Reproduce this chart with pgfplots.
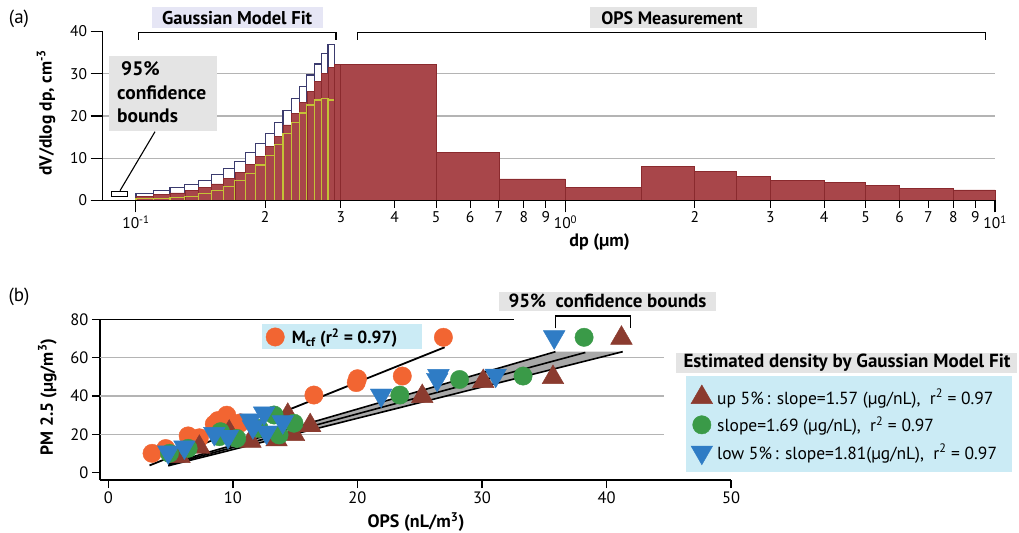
\documentclass[border=0pt]{standalone}
\usepackage{fontspec}
\setmainfont{PT Sans}
\usepackage{pgfplots}
\pgfplotsset{compat=1.18}
\newcommand{\fsz}[1]{\fontsize{#1bp}{#1bp}\selectfont}

\definecolor{opsred}{HTML}{A8464A}
\definecolor{opsredline}{HTML}{8A2A2E}
\definecolor{upnavy}{HTML}{3B3B6E}
\definecolor{lowyel}{HTML}{C4C236}
\definecolor{gridgray}{HTML}{B4B4B4}
\definecolor{boxgray}{HTML}{E4E4E4}
\definecolor{boxlav}{HTML}{E6E6F5}
\definecolor{boxblue}{HTML}{CBEBF5}
\definecolor{mcf}{HTML}{F26532}
\definecolor{gup}{HTML}{8B3B2F}
\definecolor{gmid}{HTML}{3A9A48}
\definecolor{glow}{HTML}{2F7CC5}
\definecolor{bandgray}{HTML}{A8A8A8}

\begin{document}
\begin{tikzpicture}
\useasboundingbox (0,0) rectangle (1019bp,533bp);

% boxes behind the legends of panel (b)
\fill[boxblue] (262bp,184bp) rectangle (422bp,208.7bp);
\fill[boxgray] (676bp,160.3bp) rectangle (1016.7bp,179.7bp);
\fill[boxblue] (686bp,61.3bp) rectangle (1011.7bp,157bp);
\fill[boxgray] (498.8bp,222.3bp) rectangle (716.2bp,241.3bp);

%% ---------------- panel (a) ----------------
\begin{axis}[
  at={(102.5bp,332.5bp)}, anchor=south west,
  scale only axis, width=892.5bp, height=169bp,
  xmode=log, xmin=0.0836, xmax=10, ymin=0, ymax=40,
  axis lines=left, axis line style={-, line width=1.1bp},
  axis on top,
  tick align=outside, tick style={black, line width=1.1bp},
  major tick length=12bp,
  xminorticks=false,
  xtick={0.1,1,10},
  xticklabels={10\textsuperscript{-1},10\textsuperscript{0},10\textsuperscript{1}},
  extra x ticks={0.2,0.3,0.4,0.5,0.6,0.7,0.8,0.9,2,3,4,5,6,7,8,9},
  extra x tick labels={2,3,4,5,6,7,8,9,2,3,4,5,6,7,8,9},
  extra x tick style={major tick length=7.5bp},
  ytick={0,10,20,30,40},
  ticklabel style={font=\fsz{15.5}},
  /pgf/number format/assume math mode=true,
  xlabel={\bfseries dp (µm)},
  xlabel style={at={(axis description cs:0.557,-0.246)}, anchor=center, font=\fsz{18}},
  ylabel={\bfseries dV/dlog dp, cm\textsuperscript{-3}},
  ylabel style={at={(axis description cs:-0.0633,0.518)}, anchor=center, font=\fsz{17.5}},
  clip=false,
]
\draw[gridgray, line width=1.3bp] (axis cs:0.0836,10) -- (axis cs:10,10);
\draw[gridgray, line width=1.3bp] (axis cs:0.0836,20) -- (axis cs:10,20);
\draw[gridgray, line width=1.3bp] (axis cs:0.0836,30) -- (axis cs:10,30);

% Gaussian model fit, upper bound
\addplot[ybar interval, fill=white, draw=upnavy, line width=1.2bp] coordinates {
  (0.10,1.74) (0.11,2.29) (0.12,3.08) (0.13,3.87) (0.14,4.81) (0.15,6.24)
  (0.16,7.66) (0.17,9.31) (0.18,11.28) (0.19,13.5) (0.20,15.86) (0.21,18.5)
  (0.22,21.3) (0.23,24.06) (0.24,26.9) (0.25,29.7) (0.26,32.3) (0.27,34.8)
  (0.28,36.9) (0.29,36.9)
};
% Gaussian model fit
\addplot[ybar interval, fill=opsred, draw=opsredline, line width=0.6bp] coordinates {
  (0.10,1.0) (0.11,1.4) (0.12,1.8) (0.13,2.4) (0.14,3.05) (0.15,3.95)
  (0.16,5.15) (0.17,6.7) (0.18,8.45) (0.19,10.5) (0.20,12.8) (0.21,15.15)
  (0.22,17.9) (0.23,20.55) (0.24,23.3) (0.25,25.85) (0.26,28.15) (0.27,30.1)
  (0.28,31.45) (0.29,31.45)
};
% Gaussian model fit, lower bound
\addplot[ybar interval, fill=none, draw=lowyel, line width=1.2bp] coordinates {
  (0.10,0.4) (0.11,0.5) (0.12,0.7) (0.13,0.95) (0.14,1.6) (0.15,2.3)
  (0.16,3.4) (0.17,4.7) (0.18,6.3) (0.19,8.4) (0.20,10.6) (0.21,13.3)
  (0.22,15.9) (0.23,18.5) (0.24,20.7) (0.25,22.6) (0.26,23.8) (0.27,24.2)
  (0.28,23.8) (0.29,23.8)
};
% OPS measurement
\addplot[ybar interval, fill=opsred, draw=opsredline, line width=0.8bp] coordinates {
  (0.29,32.3) (0.3,32.3) (0.5,11.3) (0.7,5.1) (1.0,3.0) (1.5,8.0) (2.0,6.8)
  (2.5,5.75) (3,4.8) (4,4.2) (5,3.55) (6,2.9) (8,2.5) (10,2.5)
};
\draw[black, fill=white, line width=1bp] (axis cs:0.0879,1.0) rectangle (axis cs:0.0958,2.1);
\end{axis}

% annotations of panel (a)
\draw[black, line width=1.1bp] (120bp,342.3bp) -- (155bp,401.3bp);
\fill[boxgray] (109.3bp,402.3bp) rectangle (217.3bp,477bp);
\node[anchor=base west, inner sep=0pt, font=\fsz{19.5}\bfseries] at (121bp,457bp) {95\%};
\node[anchor=base west, inner sep=0pt, font=\fsz{19.5}\bfseries] at (117bp,433bp) {confidence};
\node[anchor=base west, inner sep=0pt, font=\fsz{19.5}\bfseries] at (117bp,410.3bp) {bounds};
\node[font=\fsz{19}] at (19bp,513.8bp) {(a)};
\fill[boxlav] (151.7bp,504.7bp) rectangle (322.7bp,525.7bp);
\node[font=\fsz{18.5}\bfseries] at (237.2bp,515.2bp) {Gaussian Model Fit};
\fill[boxgray] (590bp,504.7bp) rectangle (756.7bp,525.7bp);
\node[font=\fsz{18}\bfseries] at (672bp,515.2bp) {OPS Measurement};
\draw[black, line width=1.3bp] (138.7bp,493bp) -- (138.7bp,500.7bp) -- (336bp,500.7bp) -- (336bp,493bp);
\draw[black, line width=1.3bp] (357.7bp,493bp) -- (357.7bp,500.7bp) -- (985.7bp,500.7bp) -- (985.7bp,493bp);

%% ---------------- panel (b) ----------------
\begin{axis}[
  at={(100bp,53bp)}, anchor=south west,
  scale only axis, width=631bp, height=160.7bp,
  xmin=-0.68, xmax=50, ymin=-3.8, ymax=80,
  axis lines=left, axis line style={-, line width=1.1bp},
  tick align=outside, major tick length=8bp, tick style={black, line width=1.1bp},
  xtick={0,10,...,50}, ytick={0,20,...,80},
  ticklabel style={font=\fsz{16.5}},
  /pgf/number format/assume math mode=true,
  xlabel={\bfseries OPS (nL/m\textsuperscript{3})},
  xlabel style={at={(axis description cs:0.5008,-0.261)}, anchor=center, font=\fsz{18}},
  ylabel={\bfseries PM 2.5 (µg/m\textsuperscript{3})},
  ylabel style={at={(axis description cs:-0.0832,0.5165)}, anchor=center, font=\fsz{17.5}},
  clip=false,
  legend image code/.code={\draw[mark repeat=2,mark phase=2,#1] plot coordinates {(-8bp,0bp) (0bp,0bp) (8bp,0bp)};},
  legend style={at={(axis description cs:0.2628,0.8899)}, anchor=west, draw=none, fill=none,
    inner sep=0pt, font=\fsz{17.5}, nodes={inner xsep=7.5bp, inner ysep=0bp}},
]
\draw[gridgray, line width=1.3bp] (axis cs:-0.68,20) -- (axis cs:44.6,20);
\draw[gridgray, line width=1.3bp] (axis cs:-0.68,40) -- (axis cs:44.6,40);
\draw[gridgray, line width=1.3bp] (axis cs:-0.68,60) -- (axis cs:44.6,60);
\draw[black, line width=1bp] (axis cs:-0.68,80) -- (axis cs:32.6,80);
\addplot[black, line width=1.8bp, forget plot] coordinates {(3.3,3.8) (27.0,65.4)};
\addplot[only marks, mark=*, mark size=9.2bp, color=mcf] coordinates {
  (3.5,10.1) (4.6,12.6) (6.4,19.2) (7.3,18.2) (8.5,25.3) (8.8,27.2) (9.5,30.0)
  (10.6,26.0) (16.5,40.5) (19.9,47.0) (20.0,49.0) (23.6,50.4) (26.9,70.6)
};
\addlegendentry{\bfseries M\textsubscript{cf} (r\textsuperscript{2} = 0.97)}
\end{axis}

\begin{axis}[
  at={(100bp,53bp)}, anchor=south west,
  scale only axis, width=631bp, height=160.7bp,
  xmin=-0.68, xmax=50, ymin=-3.8, ymax=80,
  hide axis, clip=false,
  legend image code/.code={\draw[mark repeat=2,mark phase=2,#1] plot coordinates {(-8bp,0bp) (0bp,0bp) (8bp,0bp)};},
  legend style={at={(axis description cs:0.9363,0.593)}, anchor=north west, draw=none, fill=none,
    inner sep=0pt, font=\fsz{17.5}, row sep=10bp, legend cell align=left,
    nodes={inner xsep=4.5bp, inner ysep=0bp}},
]
\addplot[fill=bandgray, draw=none, forget plot] coordinates {(4.8,4.6) (35.9,63.1) (41.3,63.1) (4.8,3.6)} -- cycle;
\addplot[black, line width=1.6bp, forget plot] coordinates {(4.8,4.6) (35.9,63.1)};
\addplot[black, line width=1.6bp, forget plot] coordinates {(4.8,4.1) (38.3,62.7)};
\addplot[black, line width=1.6bp, forget plot] coordinates {(4.8,3.6) (41.3,63.1)};
\addplot[only marks, mark=triangle*, mark size=12.5bp, color=gup] coordinates {
  (5.7,8.5) (7.3,13.3) (9.7,21.2) (11.4,16.5) (13.5,17.2) (14.4,30.0) (14.9,20.0)
  (16.2,24.6) (25.2,39.8) (30.1,47.6) (35.7,49.7) (41.2,70.2)
};
\addlegendentry{up 5\%\,: slope=1.57 (µg/nL),\ \ r\textsuperscript{2} = 0.97}
\addplot[only marks, mark=*, mark size=9.2bp, color=gmid] coordinates {
  (4.9,10.1) (6.4,12.7) (8.9,18.8) (9.0,21.4) (10.3,17.9) (12.1,23.1) (13.3,30.1)
  (13.7,19.7) (14.9,25.8) (23.4,40.5) (28.2,48.6) (33.3,50.4) (38.2,70.6)
};
\addlegendentry{slope=1.69 (µg/nL),\ \ r\textsuperscript{2} = 0.97}
\addplot[only marks, mark=triangle*, mark size=12.5bp, mark options={rotate=180}, color=glow] coordinates {
  (4.8,10.8) (6.1,13.4) (8.5,20.4) (9.6,18.9) (11.4,27.4) (11.6,23.9) (12.5,31.1)
  (12.7,21.1) (14.0,26.5) (21.9,40.4) (26.4,48.6) (26.5,50.6) (31.1,50.8) (35.8,70.8)
};
\addlegendentry{low 5\%\,: slope=1.81(µg/nL),\ \ r\textsuperscript{2} = 0.97}
\end{axis}

% annotations of panel (b)
\node[font=\fsz{19}] at (19bp,236.5bp) {(b)};
\node[font=\fsz{19}\bfseries] at (607.5bp,232.2bp) {95\%\ \ confidence bounds};
\draw[black, line width=1.3bp] (555.6bp,204.7bp) -- (555.6bp,217bp) -- (630.4bp,217bp) -- (630.4bp,204.7bp);
\node[font=\fsz{19}\bfseries] at (847bp,170.5bp) {Estimated density by Gaussian Model Fit};
\end{tikzpicture}
\end{document}
